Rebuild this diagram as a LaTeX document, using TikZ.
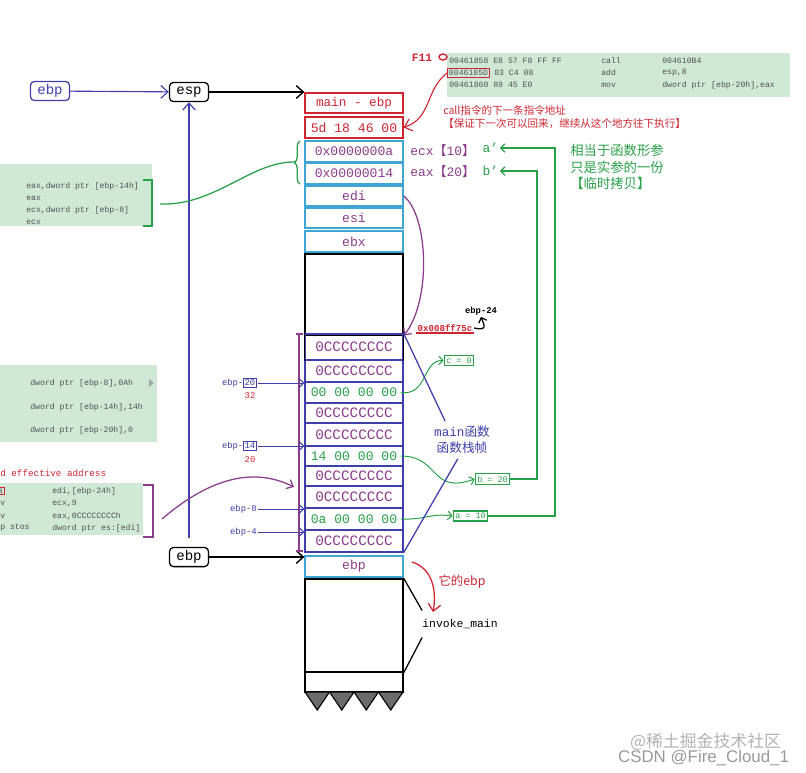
\documentclass[tikz,border=0pt]{standalone}
\usepackage{fontspec}
\setmainfont{Liberation Mono}
\newfontfamily\cjk{Noto Sans CJK SC}
\newfontfamily\wmfont{Liberation Sans}
\usetikzlibrary{arrows.meta,decorations.pathreplacing}
\definecolor{redc}{RGB}{208,36,48}
\definecolor{cyanc}{RGB}{64,164,212}
\definecolor{purpc}{RGB}{140,60,140}
\definecolor{greenc}{RGB}{40,160,72}
\definecolor{bluec}{RGB}{62,62,172}
\definecolor{panelc}{RGB}{208,233,214}
\definecolor{codec}{RGB}{80,80,80}
\setlength{\fboxsep}{0.6pt}
\setlength{\fboxrule}{0.4pt}

\begin{document}
\begin{tikzpicture}[
    x=0.025cm, y=-0.025cm,
    cell/.style={draw, line width=0.9pt, minimum width=2.45cm, inner sep=0pt, font=\fontsize{9.3}{11}\selectfont},
    regbox/.style={draw, rounded corners=3pt, line width=0.9pt, minimum width=0.98cm, minimum height=0.48cm, inner sep=0pt, font=\fontsize{10}{12}\selectfont},
    code/.style={anchor=west, inner sep=0pt, text=codec, font=\fontsize{5.8}{7}\selectfont},
    offs/.style={anchor=east, inner sep=0pt, text=bluec, font=\fontsize{6.3}{7}\selectfont},
    varbox/.style={draw=greenc, text=greenc, line width=0.8pt, inner sep=1.5pt, font=\fontsize{6}{7}\selectfont},
    arr/.style={-{Straight Barb[length=5pt,width=9pt]}, line width=1pt},
    thinarr/.style={-{Straight Barb[length=3pt,width=6pt]}, line width=0.7pt},
  ]
  \useasboundingbox (0,0) rectangle (806,772);

  \fill[panelc] (447,53) rectangle (790,97);
  \fill[panelc] (0,164) rectangle (152,226);
  \fill[panelc] (0,365) rectangle (157,442);
  \fill[panelc] (0,483) rectangle (143,535);

  \node[regbox, draw=bluec, text=bluec] (ebptop) at (50,91) {ebp};
  \node[regbox] (esp) at (189,92) {esp};
  \node[regbox] (ebpbot) at (189,557) {ebp};

  \node[cell, draw=redc, text=redc, minimum height=0.5cm, font=\fontsize{9}{11}\selectfont] (m1) at (354,103) {main - ebp};
  \node[cell, draw=redc, text=redc, minimum height=0.52cm] (m2) at (354,127.5) {5d 18 46 00};
  \node[cell, draw=cyanc, text=purpc, minimum height=0.52cm] (pa) at (354,151.5) {0x0000000a};
  \node[cell, draw=cyanc, text=purpc, minimum height=0.52cm] (pb) at (354,173.5) {0x00000014};
  \node[cell, draw=cyanc, text=purpc, minimum height=0.5cm] (edi) at (354,196) {edi};
  \node[cell, draw=cyanc, text=purpc, minimum height=0.5cm] (esi) at (354,218) {esi};
  \node[cell, draw=cyanc, text=purpc, minimum height=0.52cm] (ebx) at (354,241.5) {ebx};
  \node[draw, line width=1pt, minimum width=2.45cm, minimum height=2.02cm] (blank) at (354,294.5) {};

  \foreach \yt/\yb/\txt/\tc/\fs [count=\i] in {
      334/360/0CCCCCCCC/purpc/10.2, 360/382/0CCCCCCCC/purpc/10.2, 382/403/{00 00 00 00}/greenc/9.3,
      403/423/0CCCCCCCC/purpc/10.2, 423/446/0CCCCCCCC/purpc/10.2, 446/466/{14 00 00 00}/greenc/9.3,
      466/486/0CCCCCCCC/purpc/10.2, 486/508/0CCCCCCCC/purpc/10.2, 508/530/{0a 00 00 00}/greenc/9.3,
      530/552/0CCCCCCCC/purpc/10.2}
    \node[cell, draw=bluec, text=\tc, minimum height={(\yb-\yt)*0.025cm}, font=\fontsize{\fs}{12}\selectfont] (s\i) at (354,{(\yt+\yb)/2}) {\txt};
  \draw[line width=1pt] (s1.south west) -- (s1.north west) (s1.north east) -- (s1.south east);

  \node[cell, draw=cyanc, text=purpc, minimum height=0.525cm] (ebpcell) at (354,566.5) {ebp};
  \node[draw, line width=1pt, minimum width=2.45cm, minimum height=2.325cm] (blk2) at (354,625.5) {};
  \node[draw, line width=1pt, minimum width=2.45cm, minimum height=0.5cm] (blk3) at (354,682) {};
  \foreach \k in {0,...,3}
    \filldraw[fill=black!58, draw=black, line width=0.8pt] ({305+\k*24.5},692) -- ({305+(\k+1)*24.5},692) -- ({305+(\k+0.5)*24.5},710) -- cycle;

  \draw[arr, bluec, line width=0.8pt] (ebptop) -- (esp);
  \draw[arr] (esp) -- (esp -| m1.west);
  \draw[arr] (ebpbot) -- (ebpbot -| ebpcell.west);
  \draw[arr, bluec, line width=0.8pt, shorten <=6pt] (ebpbot.north) -- (esp.south);

  \node[text=redc, font=\bfseries\fontsize{8}{9}\selectfont] (f11) at (422,58) {F11};
  \draw[redc, line width=1pt] (443,57) ellipse (4 and 3);
  \node[code] (l1a) at (449,61) {00461858 E8 57 F8 FF FF};
  \node[code] (l1b) at (601,61) {call};
  \node[code] (l1c) at (662,61) {004610B4};
  \node[code, draw=redc, line width=0.8pt, inner sep=1pt] (retaddr) at (447,73) {0046185D};
  \node[code] (l2a) at (494,73) {83 C4 08};
  \node[code] (l2b) at (601,73) {add};
  \node[code] (l2c) at (662,73) {esp,8};
  \node[code] (l3a) at (449,85) {00461860 89 45 E0};
  \node[code] (l3b) at (601,85) {mov};
  \node[code] (l3c) at (662,85) {dword ptr [ebp-20h],eax};
  \draw[arr, redc, line width=0.8pt] (retaddr.west) .. controls (425,90) and (432,118) .. (m2.east);
  \node[anchor=west, text=redc, align=left, inner sep=0pt, font=\cjk\fontsize{7.5}{9.4}\selectfont] (callnote) at (443,117) {call指令的下一条指令地址\\【保证下一次可以回来，继续从这个地方往下执行】};

  \node[code] (p1a) at (26,186) {eax,dword ptr [ebp-14h]};
  \node[code] (p1b) at (26,198) {eax};
  \node[code] (p1c) at (26,210) {ecx,dword ptr [ebp-8]};
  \node[code] (p1d) at (26,222) {ecx};
  \draw[greenc, line width=0.9pt] (143,180) -- (152,180) -- (152,226) -- (143,226);
  \draw[greenc, line width=0.9pt, decorate, decoration={brace, amplitude=4pt}] (300,184) -- (300,141);
  \coordinate (gstart) at (160,204);
  \coordinate (gtip) at (294,162);
  \draw[greenc, line width=0.9pt] (gstart) .. controls (215,206) and (250,162) .. (gtip);

  \node[anchor=west, inner sep=0pt, text=purpc, font=\fontsize{9.2}{11}\selectfont] (ecx) at (410,151) {ecx{\cjk 【}10{\cjk 】}};
  \node[anchor=west, inner sep=0pt, text=purpc, font=\fontsize{9.2}{11}\selectfont] (eax) at (410,172) {eax{\cjk 【}20{\cjk 】}};
  \node[anchor=west, inner sep=1pt, text=greenc, font=\fontsize{9.2}{11}\selectfont] (aprime) at (481,148) {a'};
  \node[anchor=west, inner sep=1pt, text=greenc, font=\fontsize{9.2}{11}\selectfont] (bprime) at (481,171) {b'};
  \node[anchor=west, inner sep=0pt, text=greenc, align=left, font=\cjk\fontsize{9.5}{12}\selectfont] (note) at (570,167) {相当于函数形参\\只是实参的一份\\【临时拷贝】};

  \draw[purpc, line width=0.9pt, -{Straight Barb[length=4pt,width=7pt]}] (edi.east) .. controls (428,215) and (432,300) .. (blank.south east);
  \node[text=redc, inner sep=1pt, font=\bfseries\fontsize{6.5}{8}\selectfont] (addr) at (445,328) {0x008ff75c};
  \draw[redc, line width=1pt] (addr.south west) -- (addr.south east);
  \node[inner sep=1pt, font=\bfseries\fontsize{6.3}{7}\selectfont] (ebp24) at (481,311) {ebp-24};
  \draw[thinarr, line width=0.9pt] (addr.east) .. controls (488,331) and (484,325) .. (ebp24.south);

  \node[varbox] (ceq) at (459,360.5) {c = 0};
  \node[varbox] (beq) at (492.5,479) {b = 20};
  \node[varbox] (aeq) at (470.5,516) {a = 10};
  \draw[thinarr, greenc] ([xshift=-2pt]s3.east) .. controls (428,396) and (422,360) .. (ceq.west);
  \draw[thinarr, greenc] ([xshift=-2pt]s6.east) .. controls (440,456) and (430,495) .. (beq.west);
  \draw[thinarr, greenc] ([xshift=-2pt]s9.east) .. controls (425,520) and (430,513) .. (aeq.west);
  \draw[thinarr, greenc, line width=0.9pt] (aeq.east) -- (555,516) -- (555,148) -- (aprime.east);
  \draw[thinarr, greenc, line width=0.9pt] (beq.east) -- (537,479) -- (537,171) -- (bprime.east);

  \node[text=bluec, align=center, font=\fontsize{9}{11.4}\selectfont] (mainlbl) at (462,440) {main{\cjk 函数}\\{\cjk 函数栈帧}};
  \draw[bluec, line width=0.9pt] (s1.north east) -- ([xshift=-12pt]mainlbl.north);
  \draw[bluec, line width=0.9pt] ([xshift=-3pt]mainlbl.south) -- (s10.south east);

  \draw[purpc, line width=1pt] (296,334) -- (303,334) (299,334) -- (299,551) (296,551) -- (303,551);
  \node[offs] (o20) at (257,383) {ebp-\fcolorbox{bluec}{white}{20}};
  \node[text=redc, font=\fontsize{6.3}{7}\selectfont] (n32) at (250,396) {32};
  \node[offs] (o14) at (257,446) {ebp-\fcolorbox{bluec}{white}{14}};
  \node[text=redc, font=\fontsize{6.3}{7}\selectfont] (n20) at (250,460) {20};
  \node[offs] (o8) at (257,509) {ebp-8};
  \node[offs] (o4) at (257,532) {ebp-4};
  \draw[thinarr, bluec] ([xshift=1pt]o20.east) -- (o20.east -| s3.west);
  \draw[thinarr, bluec] ([xshift=1pt]o14.east) -- (o14.east -| s6.west);
  \draw[thinarr, bluec] ([xshift=1pt]o8.east) -- (o8.east -| s9.west);
  \draw[thinarr, bluec] ([xshift=1pt]o4.east) -- (o4.east -| s10.west);

  \node[code] (q1a) at (30,383) {dword ptr [ebp-8],0Ah};
  \node[code] (q1b) at (30,407) {dword ptr [ebp-14h],14h};
  \node[code] (q1c) at (30,430) {dword ptr [ebp-20h],0};
  \fill[black!35] (149,379) -- (154,383) -- (149,387) -- cycle;

  \node[anchor=west, inner sep=0pt, text=redc, font=\fontsize{6.6}{8}\selectfont] (lea) at (0,473) {d effective address};
  \node[code, draw=redc, line width=0.8pt, inner sep=1pt] (r1a) at (-4,491) {a};
  \node[code] (r2a) at (0,503) {v};
  \node[code] (r3a) at (0,516) {v};
  \node[code] (r4a) at (0,528) {p stos};
  \node[code] (r1b) at (52,491) {edi,[ebp-24h]};
  \node[code] (r2b) at (52,503) {ecx,9};
  \node[code] (r3b) at (52,516) {eax,0CCCCCCCCh};
  \node[code] (r4b) at (52,528) {dword ptr es:[edi]};
  \draw[purpc, line width=1pt] (143,485) -- (153,485) -- (153,537) -- (143,537);
  \coordinate (pstart) at (162,519);
  \coordinate (pend) at (294,487);
  \draw[purpc, line width=0.9pt, -{Straight Barb[length=4pt,width=7pt]}] (pstart) .. controls (205,482) and (250,465) .. (pend);

  \node[text=redc, font=\cjk\fontsize{8.8}{10}\selectfont] (itsebp) at (462,582) {它的ebp};
  \coordinate (rs) at (412,562);
  \coordinate (re) at (433,612);
  \draw[arr, redc, line width=0.9pt] (rs) .. controls (432,568) and (437,590) .. (re);
  \node[inner xsep=0pt, inner ysep=6pt, font=\fontsize{8.1}{10}\selectfont] (inv) at (460,624) {invoke\_main};
  \draw[line width=0.9pt] (blk2.north east) -- (inv.north west);
  \draw[line width=0.9pt] (inv.south west) -- (blk2.south east);

  \node[anchor=east, text=black!30, font=\cjk\fontsize{12}{13}\selectfont] (wm1) at (786,742) {@稀土掘金技术社区};
  \node[anchor=east, text=black!40, font=\wmfont\fontsize{12}{13}\selectfont] (wm2) at (794,758) {CSDN @Fire\_Cloud\_1};
\end{tikzpicture}
\end{document}
